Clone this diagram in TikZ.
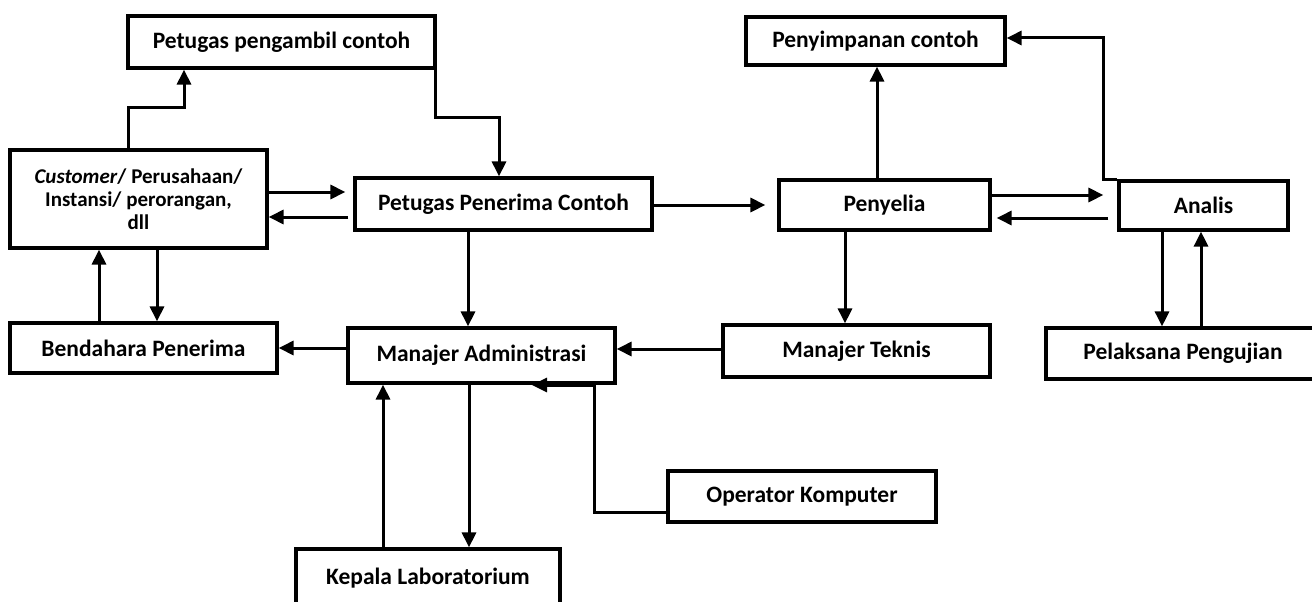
\documentclass[tikz,border=0pt]{standalone}
\usepackage{fontspec}
\setmainfont{Carlito}
\usetikzlibrary{arrows.meta}
\begin{document}
\begin{tikzpicture}[x=1pt,y=-1pt,
  box/.style={draw=black, line width=3.2pt, fill=white, inner sep=0pt, align=center,
    font=\bfseries\fontsize{23.5}{27}\selectfont},
  arr/.style={line width=3pt, -{Triangle[length=15pt,width=14pt]}}]
\useasboundingbox (0,0) rectangle (1312,602);
\fill[white] (0,0) rectangle (1312,602);
% nodes
\node[box, minimum width=307pt, minimum height=52pt] (peng) at (281.5,42) {Petugas pengambil contoh};
\node[box, minimum width=257pt, minimum height=98pt, font=\bfseries\fontsize{21}{23}\selectfont] (cust) at (138.5,199)
  {\textit{Customer}/ Perusahaan/\\Instansi/ perorangan,\\dll};
\node[box, minimum width=297pt, minimum height=52pt] (pener) at (503.5,204) {Petugas Penerima Contoh};
\node[box, minimum width=211pt, minimum height=50pt] (penyelia) at (884.5,205) {Penyelia};
\node[box, minimum width=259pt, minimum height=48pt] (penyimp) at (875.5,41) {Penyimpanan contoh};
\node[box, minimum width=169pt, minimum height=49pt] (analis) at (1203.5,205.5) {Analis};
\node[box, minimum width=267pt, minimum height=50pt] (bend) at (143.5,348) {Bendahara Penerima};
\node[box, minimum width=267pt, minimum height=55pt] (adm) at (481.5,355.5) {Manajer Administrasi};
\node[box, minimum width=267pt, minimum height=52pt] (teknis) at (856.5,351) {Manajer Teknis};
\node[box, minimum width=274pt, minimum height=51pt] (pelak) at (1183,353.5) {Pelaksana Pengujian};
\node[box, minimum width=268pt, minimum height=51pt] (oper) at (802,496.5) {Operator Komputer};
\node[box, minimum width=264pt, minimum height=59pt] (kepala) at (428,578.5) {Kepala Laboratorium};
% helper coordinates
\coordinate (a1) at (128,107);
\coordinate (a2) at (184,107);
\coordinate (b1) at (435,117);
\coordinate (b2) at (499,117);
\coordinate (h192) at (0,192);
\coordinate (h217) at (0,217);
\coordinate (h205) at (0,205);
\coordinate (h195) at (0,195);
\coordinate (h218) at (0,218);
\coordinate (h348) at (0,348);
\coordinate (h349) at (0,349);
\coordinate (c2) at (1103,38);
\coordinate (v877) at (877,0);
\coordinate (v845) at (845,0);
\coordinate (v468) at (468,0);
\coordinate (v99) at (99,0);
\coordinate (v157) at (157,0);
\coordinate (v1162) at (1162,0);
\coordinate (v1201) at (1201,0);
\coordinate (v469) at (469,0);
\coordinate (v383) at (383,0);
\coordinate (o1) at (594,512);
\coordinate (o2) at (594,385);
\coordinate (o3) at (532,385);
% connectors
\draw[arr] (a1 |- cust.north) -- (a1) -- (a2) -- (a2 |- peng.south);
\draw[arr] (b1 |- peng.south) -- (b1) -- (b2) -- (b2 |- pener.north);
\draw[arr, shorten >=8pt] (cust.east |- h192) -- (pener.west |- h192);
\draw[arr, shorten <=5pt] (pener.west |- h217) -- (cust.east |- h217);
\draw[arr, shorten >=12pt] (pener.east |- h205) -- (penyelia.west |- h205);
\draw[arr] (v877 |- penyelia.north) -- (v877 |- penyimp.south);
\draw[arr, shorten >=14pt] (penyelia.east |- h195) -- (analis.west |- h195);
\draw[arr, shorten <=9pt, shorten >=5pt] (analis.west |- h218) -- (penyelia.east |- h218);
\draw[arr] (analis.north west) -- (c2 |- analis.north west) -- (c2) -- (penyimp.east |- c2);
\draw[arr] (v845 |- penyelia.south) -- (v845 |- teknis.north);
\draw[arr] (v468 |- pener.south) -- (v468 |- adm.north);
\draw[arr] (teknis.west |- h349) -- (adm.east |- h349);
\draw[arr] (adm.west |- h348) -- (bend.east |- h348);
\draw[arr] (v99 |- bend.north) -- (v99 |- cust.south);
\draw[arr] (v157 |- cust.south) -- (v157 |- bend.north);
\draw[arr] (v1162 |- analis.south) -- (v1162 |- pelak.north);
\draw[arr] (v1201 |- pelak.north) -- (v1201 |- analis.south);
\draw[arr] (v469 |- adm.south) -- (v469 |- kepala.north);
\draw[arr] (v383 |- kepala.north) -- (v383 |- adm.south);
\draw[arr] (oper.west |- o1) -- (o1) -- (o2) -- (o3);
\end{tikzpicture}
\end{document}
